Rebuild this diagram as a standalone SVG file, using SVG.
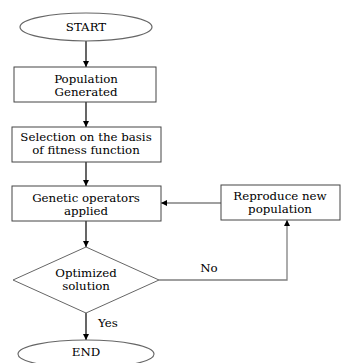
<svg xmlns="http://www.w3.org/2000/svg" width="350" height="363" viewBox="0 0 350 363">
<defs>
<marker id="ah" markerWidth="6" markerHeight="6" refX="6" refY="3" orient="auto" markerUnits="userSpaceOnUse">
<path d="M0,0 L6,3 L0,6 Z" fill="#000"/>
</marker>
<style>
.shape{fill:#fff;stroke:#444;stroke-width:1}
.ell{fill:#fff;stroke:#666;stroke-width:1.2}
.t{font-family:"DejaVu Serif","Liberation Serif",serif;font-size:11.8px;fill:#000;text-anchor:middle}
.main{stroke:#000;stroke-width:1.2;fill:none}
.fb{stroke:#808080;stroke-width:1.3;fill:none}
</style>
</defs>
<rect width="350" height="363" fill="#fff"/>
<g id="connectors">
<line class="main" x1="86" y1="41" x2="86" y2="67" marker-end="url(#ah)"/>
<line class="main" x1="86" y1="102" x2="86" y2="127" marker-end="url(#ah)"/>
<line class="main" x1="86" y1="162" x2="86" y2="186" marker-end="url(#ah)"/>
<line class="main" x1="86" y1="221" x2="86" y2="247" marker-end="url(#ah)"/>
<line class="main" x1="86" y1="313" x2="86" y2="340" marker-end="url(#ah)"/>
<polyline class="fb" points="159,280 287,280 287,220" marker-end="url(#ah)"/>
<line class="fb" x1="221" y1="203" x2="161" y2="203" marker-end="url(#ah)"/>
<text class="t" x="209" y="272">No</text>
<text class="t" x="108" y="327">Yes</text>
</g>
<g id="start">
<ellipse class="ell" cx="86" cy="27" rx="66" ry="14"/>
<text class="t" x="86" y="31">START</text>
</g>
<g id="population">
<rect class="shape" x="14" y="67" width="142" height="35"/>
<text class="t" x="86" y="83">Population</text>
<text class="t" x="86" y="96">Generated</text>
</g>
<g id="selection">
<rect class="shape" x="12" y="127" width="149" height="35"/>
<text class="t" x="86" y="141">Selection on the basis</text>
<text class="t" x="86" y="154">of fitness function</text>
</g>
<g id="genetic">
<rect class="shape" x="12" y="186" width="149" height="35"/>
<text class="t" x="86" y="202">Genetic operators</text>
<text class="t" x="86" y="215">applied</text>
</g>
<g id="reproduce">
<rect class="shape" x="221" y="185" width="119" height="35"/>
<text class="t" x="280" y="200">Reproduce new</text>
<text class="t" x="280" y="213">population</text>
</g>
<g id="optimized">
<polygon class="shape" points="86,247 159,280 86,313 13,280" style="stroke:#666"/>
<text class="t" x="86" y="277">Optimized</text>
<text class="t" x="86" y="290">solution</text>
</g>
<g id="end">
<ellipse class="ell" cx="86" cy="354" rx="68" ry="14"/>
<text class="t" x="86" y="356">END</text>
</g>
</svg>
